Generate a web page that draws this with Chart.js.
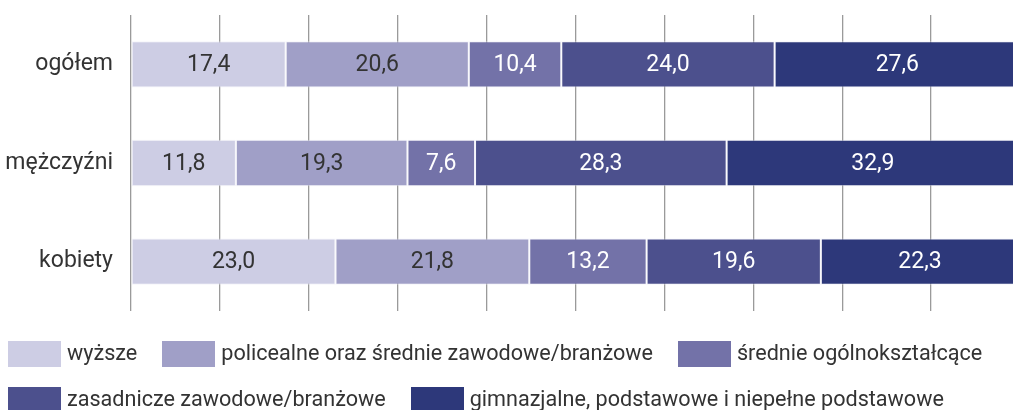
<!DOCTYPE html>
<html>
<head>
<meta charset="utf-8">
<script src="https://cdn.jsdelivr.net/npm/chart.js@4"></script>
<style>
  html, body { margin: 0; padding: 0; background: #fff; overflow: hidden; width: 1013px; height: 410px; }
  #wrap { position: absolute; left: 0; top: 0; width: 1021px; height: 410px; }
  #legend { position: absolute; left: 8px; top: 341px; width: 1010px; display: flex; flex-wrap: wrap;
            font-family: Roboto, sans-serif; font-size: 21.6px; color: #333; row-gap: 20px; }
  .item { display: flex; align-items: center; margin-right: 25px; height: 26px; white-space: nowrap; }
  .box { width: 53px; height: 26px; margin-right: 6px; flex: none; }
  .txt { position: relative; top: -2px; }
</style>
</head>
<body>
<div id="wrap"><canvas id="c" width="1021" height="410"></canvas></div>
<div id="legend"></div>
<script>
const categories = ['ogółem', 'mężczyźni', 'kobiety'];
const seriesNames = ['wyższe', 'policealne oraz średnie zawodowe/branżowe', 'średnie ogólnokształcące', 'zasadnicze zawodowe/branżowe', 'gimnazjalne, podstawowe i niepełne podstawowe'];
const wyzsze = [17.4, 11.8, 23.0];
const policealne = [20.6, 19.3, 21.8];
const srednieOgolne = [10.4, 7.6, 13.2];
const zasadnicze = [24.0, 28.3, 19.6];
const gimnazjalne = [27.6, 32.9, 22.3];
const seriesColors = ['#cdcde4', '#a09fc7', '#7372a8', '#4c508d', '#2d387a'];
const labelColors = ['#333333', '#333333', '#ffffff', '#ffffff', '#ffffff'];

const seriesValues = [wyzsze, policealne, srednieOgolne, zasadnicze, gimnazjalne];

const datasets = seriesValues.map((vals, i) => ({
  label: seriesNames[i],
  data: vals,
  backgroundColor: seriesColors[i],
  borderColor: 'rgba(235,235,245,0.55)',
  borderWidth: 1,
  borderSkipped: false,
  barPercentage: 0.94,
  categoryPercentage: 0.5
}));

const valueLabels = {
  id: 'valueLabels',
  afterDatasetsDraw(chart) {
    const ctx = chart.ctx;
    ctx.save();
    ctx.font = '23px Roboto, sans-serif';
    ctx.textAlign = 'center';
    ctx.textBaseline = 'middle';
    chart.data.datasets.forEach((ds, i) => {
      const meta = chart.getDatasetMeta(i);
      meta.data.forEach((bar, j) => {
        const p = bar.getProps(['x', 'y', 'base'], true);
        ctx.fillStyle = labelColors[i];
        const txt = ds.data[j].toFixed(1).replace('.', ',');
        ctx.fillText(txt, (p.x + p.base) / 2, p.y + 1);
      });
    });
    ctx.restore();
  }
};

new Chart(document.getElementById('c'), {
  type: 'bar',
  data: { labels: categories, datasets },
  options: {
    indexAxis: 'y',
    responsive: false,
    animation: false,
    layout: { padding: { top: 15, bottom: 99, right: 1, left: 0 } },
    plugins: { legend: { display: false }, tooltip: { enabled: false } },
    scales: {
      x: {
        stacked: true, min: 0, max: 100,
        ticks: { display: false, stepSize: 10 },
        grid: { color: '#9a9a9a', lineWidth: 1.3, drawTicks: false },
        border: { display: false }
      },
      y: {
        stacked: true,
        grid: { display: false, drawTicks: false },
        border: { display: false },
        ticks: { color: '#333', font: { family: 'Roboto, sans-serif', size: 23 }, padding: 18 },
        afterFit(scale) { scale.width = 131; scale.paddingTop = 0; scale.paddingBottom = 0; }
      }
    }
  },
  plugins: [valueLabels]
});

const legend = document.getElementById('legend');
seriesNames.forEach((name, i) => {
  const item = document.createElement('div');
  item.className = 'item';
  const box = document.createElement('span');
  box.className = 'box';
  box.style.background = seriesColors[i];
  const t = document.createElement('span');
  t.className = 'txt';
  t.textContent = name;
  item.appendChild(box);
  item.appendChild(t);
  legend.appendChild(item);
});
</script>
</body>
</html>
